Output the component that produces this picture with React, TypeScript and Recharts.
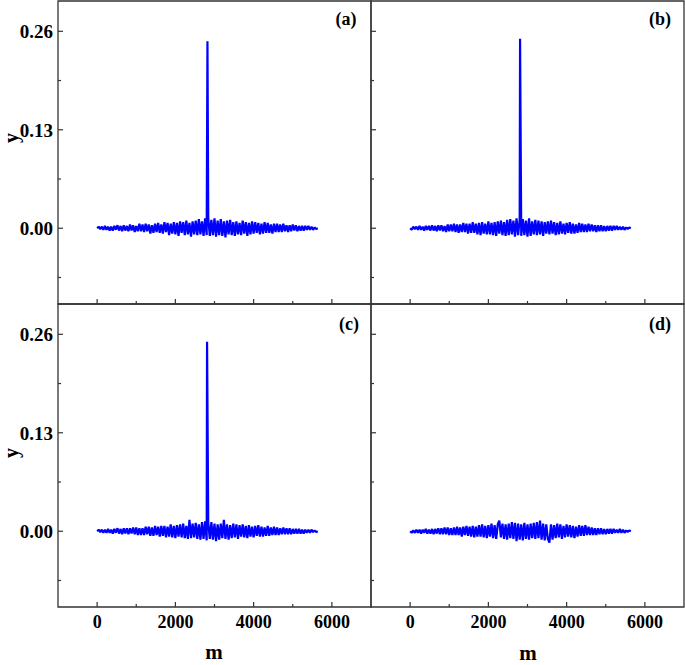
import { LineChart, Line, XAxis, YAxis, ReferenceArea } from "recharts";

// noise is sampled every 40 in m, values given in units of 0.001
const mStep = 40;

const noiseA = [
  0, 2, -1, 2, -2, 3, -2, 2, -3, 2,
  -3, 3, -2, 4, -3, 3, -4, 4, -3, 3,
  -4, 5, -3, 4, -5, 3, -4, 6, -4, 5,
  -5, 6, -4, 5, -7, 4, -6, 6, -5, 7,
  -6, 5, -7, 8, -5, 7, -9, 6, -7, 8,
  -8, 7, -10, 9, -6, 8, -9, 10, -8, 7,
  -11, 9, -8, 10, -9, 12, -8, 9, -10, 13,
  -9, 14, -10, 11, -9, 13, -11, 10, -9, 12,
  -10, 9, -12, 10, -8, 11, -9, 8, -10, 9,
  -8, 7, -9, 10, -7, 8, -10, 7, -8, 9,
  -7, 8, -6, 7, -8, 6, -7, 8, -6, 7,
  -6, 5, -7, 6, -5, 6, -5, 5, -5, 6,
  -4, 4, -5, 4, -4, 5, -3, 4, -4, 3,
  -3, 3, -3, 3, -2, 3, -2, 2, -2, 1,
  -1, 0,
];

const noiseB = [
  0, -2, 2, -1, 2, -2, 3, -2, 2, -3,
  3, -2, 3, -3, 4, -3, 3, -4, 4, -3,
  4, -4, 3, -5, 5, -4, 5, -4, 6, -5,
  5, -6, 5, -5, 7, -5, 6, -7, 6, -6,
  8, -6, 6, -8, 7, -9, 8, -7, 6, -8,
  9, -8, 7, -9, 8, -10, 9, -7, 10, -9,
  8, -10, 11, -9, 12, -8, 10, -11, 13, -9,
  11, -10, 12, -9, 10, -11, 13, -10, 9, -8,
  11, -9, 10, -8, 9, -10, 8, -7, 9, -8,
  10, -7, 8, -9, 7, -8, 9, -7, 6, -8,
  7, -6, 8, -7, 6, -7, 5, -6, 7, -5,
  6, -5, 5, -5, 6, -4, 5, -4, 4, -5,
  4, -4, 4, -4, 3, -4, 3, -3, 3, -3,
  3, -2, 3, -2, 2, -2, 2, -2, 1, -1,
  1, 0,
];

const noiseC = [
  0, 2, -1, 2, -2, 2, -2, 3, -2, 2,
  -3, 3, -2, 4, -3, 3, -4, 4, -3, 4,
  -4, 4, -3, 5, -4, 5, -5, 4, -5, 4,
  -5, 6, -4, 6, -6, 5, -6, 7, -5, 6,
  -7, 7, -6, 7, -8, 6, -7, 9, -8, 7,
  -9, 8, -7, 9, -8, 10, -9, 7, -10, 15,
  -9, 10, -8, 11, -10, 9, -11, 12, -10, 13,
  -12, 11, -10, 12, -11, 10, -13, 9, -11, 10,
  -9, 15, -10, 9, -11, 8, -9, 10, -8, 9,
  -10, 8, -7, 9, -8, 7, -9, 8, -7, 6,
  -8, 7, -6, 8, -7, 6, -7, 5, -6, 7,
  -6, 5, -5, 6, -5, 5, -5, 4, -4, 5,
  -4, 4, -4, 4, -4, 3, -3, 3, -3, 3,
  -3, 2, -3, 2, -2, 2, -2, 2, -1, 1,
  -1, 0,
];

const noiseD = [
  0, -2, 1, -2, 2, -2, 2, -3, 2, -2,
  3, -3, 2, -3, 3, -4, 3, -3, 4, -4,
  4, -4, 5, -4, 5, -5, 4, -5, 5, -5,
  6, -5, 5, -7, 6, -5, 7, -6, 6, -7,
  7, -8, 6, -7, 8, -7, 9, -8, 7, -9,
  8, -7, 10, -9, 8, -10, 9, 14, -8, 10,
  -10, 9, -11, 10, -9, 12, -10, 11, -13, 10,
  -11, 9, -12, 11, -10, 9, -11, 10, -9, 11,
  -10, 12, -9, 14, -11, 10, -12, 9, -10, -15,
  9, -11, 8, -9, 10, -8, 9, -10, 7, -8,
  9, -7, 8, -8, 7, -9, 6, -7, 8, -6,
  7, -6, 8, -5, 6, -5, 5, -5, 4, -5,
  4, -4, 4, -4, 3, -4, 3, -3, 3, -3,
  3, -2, 2, -2, 3, -2, 2, -2, 1, -1,
  1, 0,
];

// single tall peak in panels (a)-(c); (d) has none
const spikeM = [2820, 2810, 2810];
const spikeY = [0.247, 0.25, 0.25];

const xTicks = [0, 1000, 2000, 3000, 4000, 5000, 6000];
const yTicks = [-0.065, 0, 0.065, 0.13, 0.195, 0.26];
const panelTags = ["(a)", "(b)", "(c)", "(d)"];

const FONT = '"Liberation Serif", "Times New Roman", serif';
const AXIS = "#333";

function buildSeries(noise: number[], sm?: number, sy?: number) {
  const pts = noise.map((v, i) => ({ m: i * mStep, y: v / 1000 }));
  if (sm !== undefined && sy !== undefined) {
    pts.push({ m: sm, y: sy });
    pts.sort((a, b) => a.m - b.m);
  }
  return pts;
}

const series = [
  buildSeries(noiseA, spikeM[0], spikeY[0]),
  buildSeries(noiseB, spikeM[1], spikeY[1]),
  buildSeries(noiseC, spikeM[2], spikeY[2]),
  buildSeries(noiseD),
];

function XTick(props: any) {
  const { x, y, payload, showLabel } = props;
  const major = payload.value % 2000 === 0;
  return (
    <g>
      <line x1={x} x2={x} y1={y} y2={y - (major ? 5 : 3)} stroke={AXIS} strokeWidth={1.2} />
      {showLabel && major && (
        <text x={x} y={y + 21} textAnchor="middle" fontFamily={FONT} fontWeight="bold" fontSize={18} fill="#000">
          {payload.value}
        </text>
      )}
    </g>
  );
}

function YTick(props: any) {
  const { x, y, payload, showLabel } = props;
  const v = payload.value;
  const major = Math.abs(Math.round(v / 0.13) * 0.13 - v) < 1e-9;
  return (
    <g>
      <line x1={x} x2={x + (major ? 5 : 3)} y1={y} y2={y} stroke={AXIS} strokeWidth={1.2} />
      {showLabel && major && (
        <text x={x - 5} y={y + 7} textAnchor="end" fontFamily={FONT} fontWeight="bold" fontSize={19} fill="#000">
          {v.toFixed(2)}
        </text>
      )}
    </g>
  );
}

// plot boxes: a/b 1..304, c/d 304..607 so neighbouring frames share one line
const panels = [
  { left: 0, top: 0, xLabels: false, yLabels: true },
  { left: 313, top: 0, xLabels: false, yLabels: false },
  { left: 0, top: 303, xLabels: true, yLabels: true },
  { left: 313, top: 303, xLabels: true, yLabels: false },
];

function Panel({ idx }: { idx: number }) {
  const p = panels[idx];
  return (
    <div style={{ position: "absolute", left: p.left, top: p.top }}>
      <LineChart width={381} height={334} data={series[idx]} margin={{ top: 1, right: 10, bottom: 0, left: 0 }}>
        <XAxis
          dataKey="m"
          type="number"
          domain={[-1000, 7000]}
          ticks={xTicks}
          interval={0}
          height={30}
          tickSize={0}
          tickMargin={0}
          tickLine={false}
          axisLine={false}
          tick={(t: any) => <XTick {...t} showLabel={p.xLabels} />}
        />
        <YAxis
          dataKey="y"
          type="number"
          domain={[-0.1, 0.3]}
          ticks={yTicks}
          interval={0}
          width={58}
          tickSize={0}
          tickMargin={0}
          tickLine={false}
          axisLine={false}
          tick={(t: any) => <YTick {...t} showLabel={p.yLabels} />}
        />
        <Line
          type="linear"
          dataKey="y"
          stroke="#0000ff"
          strokeWidth={2.2}
          strokeLinejoin="bevel"
          dot={false}
          activeDot={false}
          isAnimationActive={false}
        />
        <ReferenceArea x1={-1000} x2={7000} y1={-0.1} y2={0.3} fill="none" stroke={AXIS} strokeWidth={1.3} fillOpacity={0} />
      </LineChart>
    </div>
  );
}

export default function App() {
  const tagPos = [
    [346, 25],
    [660, 25],
    [349, 330],
    [660, 330],
  ];
  return (
    <div style={{ position: "absolute", left: 0, top: 0, width: 685, height: 665, overflow: "hidden", background: "#fff" }}>
      {panels.map((_, i) => (
        <Panel key={i} idx={i} />
      ))}
      <svg width={685} height={665} style={{ position: "absolute", left: 0, top: 0, pointerEvents: "none" }}>
        {panelTags.map((t, i) => (
          <text key={t} x={tagPos[i][0]} y={tagPos[i][1]} textAnchor="middle" fontFamily={FONT} fontWeight="bold" fontSize={18} fill="#000">
            {t}
          </text>
        ))}
        <text x={18} y={138} transform="rotate(-90 18 138)" textAnchor="middle" fontFamily={FONT} fontWeight="bold" fontSize={20} fill="#000">
          y
        </text>
        <text x={18} y={453} transform="rotate(-90 18 453)" textAnchor="middle" fontFamily={FONT} fontWeight="bold" fontSize={20} fill="#000">
          y
        </text>
        <text x={214} y={659} textAnchor="middle" fontFamily={FONT} fontWeight="bold" fontSize={21} fill="#000">
          m
        </text>
        <text x={528} y={660} textAnchor="middle" fontFamily={FONT} fontWeight="bold" fontSize={21} fill="#000">
          m
        </text>
      </svg>
    </div>
  );
}
